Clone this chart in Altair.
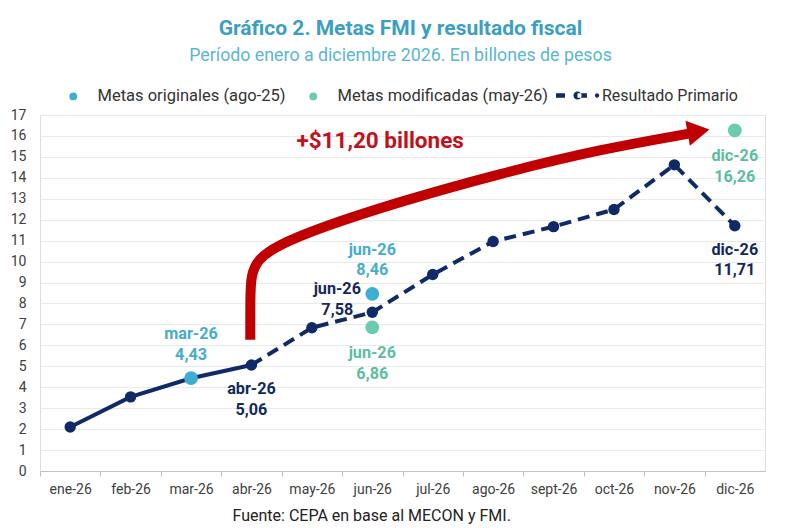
import altair as alt
import pandas as pd

# ---------------- data ----------------
months = ["ene-26", "feb-26", "mar-26", "abr-26", "may-26", "jun-26",
          "jul-26", "ago-26", "sept-26", "oct-26", "nov-26", "dic-26"]
resultado = [2.10, 3.54, 4.43, 5.06, 6.84, 7.58, 9.38, 10.96, 11.67, 12.49, 14.62, 11.71]

orig_months = ["mar-26", "jun-26"]
orig_values = [4.43, 8.46]
mod_months = ["jun-26", "dic-26"]
mod_values = [6.86, 16.26]

# annotation arrow path (month index, billions)
arrow_x = [2.98, 2.98, 2.99, 3.11, 3.39, 4.14, 5.46, 7.12, 8.77, 10.26]
arrow_y = [6.27, 8.18, 9.38, 10.10, 10.72, 11.63, 12.87, 14.21, 15.36, 16.12]
arrow_head = (10.40, 16.22)
arrow_text_pos = (5.13, 15.74)

S_ORIG = "Metas originales (ago-25)"
S_MOD = "Metas modificadas (may-26)"
S_RES = "Resultado Primario"

NAVY = "#0F2A66"
BLUE = "#3DAED0"
GREEN = "#6ACBAE"
RED = "#C00000"
FONT = "Roboto"


def fmt(v):
    return f"{v:.2f}".replace(".", ",")


res_df = pd.DataFrame({"x": range(len(months)), "y": resultado,
                       "m": months, "serie": S_RES})
res_df["t"] = res_df["m"] + "\n" + res_df["y"].map(fmt)

orig_df = pd.DataFrame({"x": [months.index(m) for m in orig_months],
                        "y": orig_values, "m": orig_months, "serie": S_ORIG})
orig_df["t"] = orig_df["m"] + "\n" + orig_df["y"].map(fmt)
mod_df = pd.DataFrame({"x": [months.index(m) for m in mod_months],
                       "y": mod_values, "m": mod_months, "serie": S_MOD})
mod_df["t"] = mod_df["m"] + "\n" + mod_df["y"].map(fmt)
metas_df = pd.concat([orig_df, mod_df], ignore_index=True)

arrow_df = pd.DataFrame({"x": arrow_x, "y": arrow_y, "k": range(len(arrow_x))})
head_df = pd.DataFrame({"x": [arrow_head[0]], "y": [arrow_head[1]]})
diff = mod_values[-1] - resultado[3]
atext_df = pd.DataFrame({"x": [arrow_text_pos[0]], "y": [arrow_text_pos[1]],
                         "t": [f"+${fmt(diff)} billones"]})

# ---------------- encodings ----------------
label_expr = "[" + ",".join(f"'{m}'" for m in months) + "][datum.value]"
x_axis = alt.Axis(values=list(range(len(months))), labelExpr=label_expr,
                  grid=False, tickOffset=-30.2, labelOffset=30.2,
                  tickSize=5, tickColor="#BFBFBF", domainColor="#BFBFBF",
                  labelFont=FONT, labelFontSize=14, labelColor="#404040",
                  labelPadding=6, labelFlush=False, labelOverlap=False,
                  title="Fuente: CEPA en base al MECON y FMI.",
                  titleFont=FONT, titleFontSize=16, titleFontWeight="normal",
                  titleColor="#222222", titleX=192, titleY=44,
                  titleAlign="left", titleBaseline="middle")
y_axis = alt.Axis(values=list(range(0, 18)), grid=True, gridColor="#E9E9E9",
                  domain=False, ticks=False, labelFont=FONT, labelFontSize=14,
                  labelColor="#404040", labelPadding=14, title=None)

X = alt.X("x:Q", scale=alt.Scale(domain=[-0.5, 11.5], nice=False, zero=False), axis=x_axis)
Y = alt.Y("y:Q", scale=alt.Scale(domain=[0, 17], nice=False), axis=y_axis)

# ---------------- layers ----------------
arrow = alt.Chart(arrow_df).mark_line(
    interpolate="basis", strokeWidth=10, color=RED, strokeCap="butt"
).encode(x=X, y=Y, order="k:O")

head = alt.Chart(head_df).mark_point(
    shape="triangle-right", filled=True, size=650, angle=350, color=RED, opacity=1
).encode(x=X, y=Y)

atext = alt.Chart(atext_df).mark_text(
    font=FONT, fontSize=22.5, fontWeight="bold", color="#C0121B"
).encode(x=X, y=Y, text="t:N")

line_solid = alt.Chart(res_df[res_df["x"] <= 3]).mark_line(
    color=NAVY, strokeWidth=4
).encode(x=X, y=Y)
line_dash = alt.Chart(res_df[res_df["x"] >= 3]).mark_line(
    color=NAVY, strokeWidth=4, strokeDash=[12, 7]
).encode(x=X, y=Y)

legend_res = alt.Legend(
    title=None, orient="none", legendX=516, legendY=-41, direction="horizontal",
    symbolType=("M-1,-0.1L-0.58,-0.1L-0.58,0.1L-1,0.1Z "
                "M-0.19,0A0.19,0.19,0,1,0,0.19,0A0.19,0.19,0,1,0,-0.19,0Z "
                "M0,-0.1L0.44,-0.1L0.44,0.1L0,0.1Z "
                "M0.81,0A0.1,0.1,0,1,0,1.01,0A0.1,0.1,0,1,0,0.81,0Z"),
    symbolSize=1849, symbolStrokeWidth=0, symbolOpacity=1,
    labelFont=FONT, labelFontSize=16, labelColor="#333333", labelOffset=3,
    labelLimit=300)
res_pts = alt.Chart(res_df).mark_circle(size=130, opacity=1).encode(
    x=X, y=Y,
    color=alt.Color("serie:N", scale=alt.Scale(domain=[S_RES], range=[NAVY]),
                    legend=legend_res))

legend_metas = alt.Legend(
    title=None, orient="none", legendX=25, legendY=-27, direction="horizontal",
    symbolType="circle", symbolSize=60, symbolStrokeWidth=0, symbolOpacity=1,
    labelFont=FONT, labelFontSize=16.5, labelColor="#333333", labelOffset=16,
    columnPadding=19, labelLimit=300)
metas_pts = alt.Chart(metas_df).mark_circle(size=190, opacity=1).encode(
    x=X, y=Y,
    color=alt.Color("serie:N", scale=alt.Scale(domain=[S_ORIG, S_MOD], range=[BLUE, GREEN]),
                    legend=legend_metas))


def labels(df, color, dx, dy):
    return alt.Chart(df).mark_text(
        font=FONT, fontSize=16.2, fontWeight="bold", lineBreak="\n", lineHeight=20.5,
        color=color, dx=dx, dy=dy, baseline="middle", align="center"
    ).encode(x=X, y=Y, text="t:N")


lab_res_below = labels(res_df[res_df["m"].isin(["abr-26", "dic-26"])], "#13295E", 0, 24)
lab_res_left = labels(res_df[res_df["m"] == "jun-26"], "#13295E", -35, -23)
lab_orig = labels(orig_df, "#45ADCB", 0, -44)
lab_mod = labels(mod_df, "#5BBE9F", 0, 26)

chart = alt.layer(
    arrow, head, atext, line_solid, line_dash, res_pts, metas_pts,
    lab_res_below, lab_res_left, lab_orig, lab_mod
).resolve_scale(color="independent").properties(
    width=725, height=356,
    autosize=alt.AutoSizeParams(type="none"),
    padding={"left": 40, "top": 115, "right": 35, "bottom": 57},
    title=alt.Title(
        text="Gráfico 2. Metas FMI y resultado fiscal",
        subtitle="Período enero a diciembre 2026. En billones de pesos",
        font=FONT, fontSize=21, fontWeight="bold", color="#3C9FBF",
        subtitleFont=FONT, subtitleFontSize=17.8, subtitleColor="#5AB6D2",
        subtitlePadding=8, anchor="middle", frame="group", offset=9, dx=-2),
).configure_view(stroke=None).configure(background="white")

chart.save("out.html", embed_options={"renderer": "svg", "actions": False})
